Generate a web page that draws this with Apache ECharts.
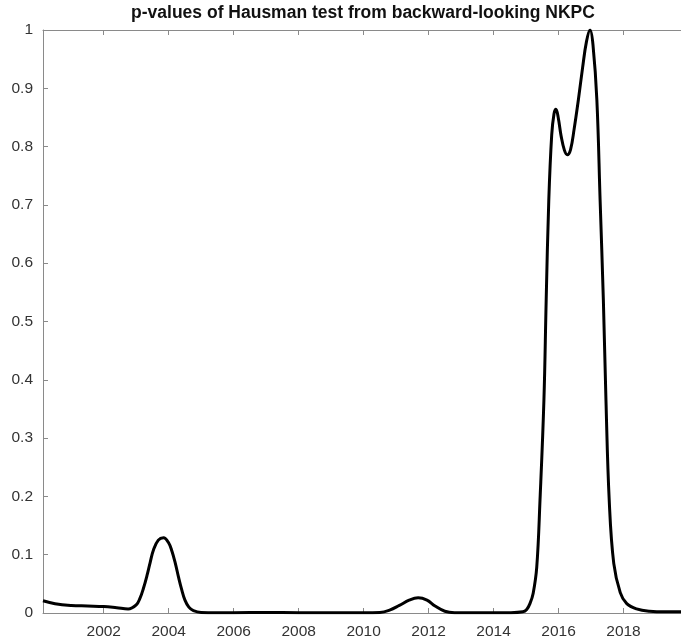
<!DOCTYPE html>
<html>
<head>
<meta charset="utf-8">
<style>
  html, body { margin: 0; padding: 0; background: #fff; }
  #chart { width: 681px; height: 644px; }
</style>
<script src="https://cdn.jsdelivr.net/npm/echarts@6/dist/echarts.min.js"></script>
</head>
<body>
<div id="chart"></div>
<script>
// Time (in fractional years) and Hausman-test p-values
const years = [
  2000.13, 2000.5, 2001.0, 2001.5, 2002.0, 2002.4, 2002.75, 2003.0, 2003.12, 2003.22,
  2003.33, 2003.43, 2003.53, 2003.68, 2003.84, 2004.0, 2004.1, 2004.2, 2004.3, 2004.4,
  2004.5, 2004.62, 2004.76, 2005.0, 2006.0, 2007.0, 2008.0, 2009.0, 2010.0, 2010.5,
  2010.8, 2011.1, 2011.4, 2011.68, 2011.95, 2012.2, 2012.5, 2012.8, 2013.5, 2014.5,
  2014.9, 2015.02, 2015.12, 2015.22, 2015.33, 2015.43, 2015.55, 2015.62, 2015.7, 2015.79,
  2015.86, 2015.92, 2015.99, 2016.08, 2016.18, 2016.27, 2016.37, 2016.48, 2016.61, 2016.74,
  2016.86, 2016.97, 2017.06, 2017.18, 2017.28, 2017.38, 2017.46, 2017.56, 2017.7, 2017.9,
  2018.1, 2018.4, 2018.8, 2019.3, 2019.77
];
const pValues = [
  0.021, 0.016, 0.013, 0.012, 0.011, 0.009, 0.007, 0.014, 0.026, 0.042,
  0.064, 0.087, 0.108, 0.125, 0.129, 0.12, 0.106, 0.086, 0.062, 0.04,
  0.022, 0.01, 0.004, 0.001, 0.0005, 0.001, 0.0005, 0.0005, 0.0005, 0.001,
  0.005, 0.013, 0.022, 0.026, 0.022, 0.012, 0.003, 0.0005, 0.0003, 0.0005,
  0.002, 0.006, 0.016, 0.034, 0.079, 0.194, 0.365, 0.537, 0.708, 0.82,
  0.856, 0.864, 0.85, 0.818, 0.794, 0.786, 0.795, 0.83, 0.88, 0.935,
  0.98, 1.0, 0.975, 0.88, 0.708, 0.537, 0.365, 0.194, 0.085, 0.035,
  0.016, 0.007, 0.003, 0.002, 0.002
];
const xTicks = [2002, 2004, 2006, 2008, 2010, 2012, 2014, 2016, 2018];
const titleText = 'p-values of Hausman test from backward-looking NKPC';

const xMin = 2000.13, xMax = 2019.77;
const axisGray = '#8a8a8a';
const font = '"Liberation Sans", Arial, sans-serif';

const chart = echarts.init(document.getElementById('chart'), null, { renderer: 'canvas' });

const baseX = {
  type: 'value', min: xMin, max: xMax,
  axisLine: { show: true, onZero: false, lineStyle: { color: axisGray, width: 1 } },
  axisTick: { show: true, inside: true, length: 5, customValues: xTicks, lineStyle: { color: axisGray } },
  splitLine: { show: false }
};

chart.setOption({
  animation: false,
  backgroundColor: '#fff',
  grid: { left: 43, right: 0, top: 30, bottom: 31, containLabel: false },
  graphic: [{
    type: 'text', x: 363, y: 13,
    style: {
      text: titleText, fill: '#111', font: 'bold 17.5px ' + font,
      textAlign: 'center', textVerticalAlign: 'middle'
    }
  }],
  xAxis: [
    Object.assign({}, baseX, {
      position: 'bottom',
      axisLabel: {
        show: true, customValues: xTicks, color: '#333', fontSize: 15.5,
        fontFamily: font, margin: 11, formatter: v => String(v)
      }
    }),
    Object.assign({}, baseX, {
      position: 'top',
      axisLabel: { show: false }
    })
  ],
  yAxis: {
    type: 'value', min: 0, max: 1, interval: 0.1,
    axisLine: { show: true, lineStyle: { color: axisGray, width: 1 } },
    axisTick: { show: true, inside: true, length: 5, lineStyle: { color: axisGray } },
    axisLabel: {
      color: '#333', fontSize: 15.5, fontFamily: font, margin: 10,
      formatter: v => String(Math.round(v * 10) / 10)
    },
    splitLine: { show: false }
  },
  series: [{
    type: 'line',
    xAxisIndex: 0,
    data: years.map((y, i) => [y, pValues[i]]),
    showSymbol: false,
    smooth: 0.4,
    clip: true,
    lineStyle: { color: '#000', width: 3 }
  }]
});
</script>
</body>
</html>
